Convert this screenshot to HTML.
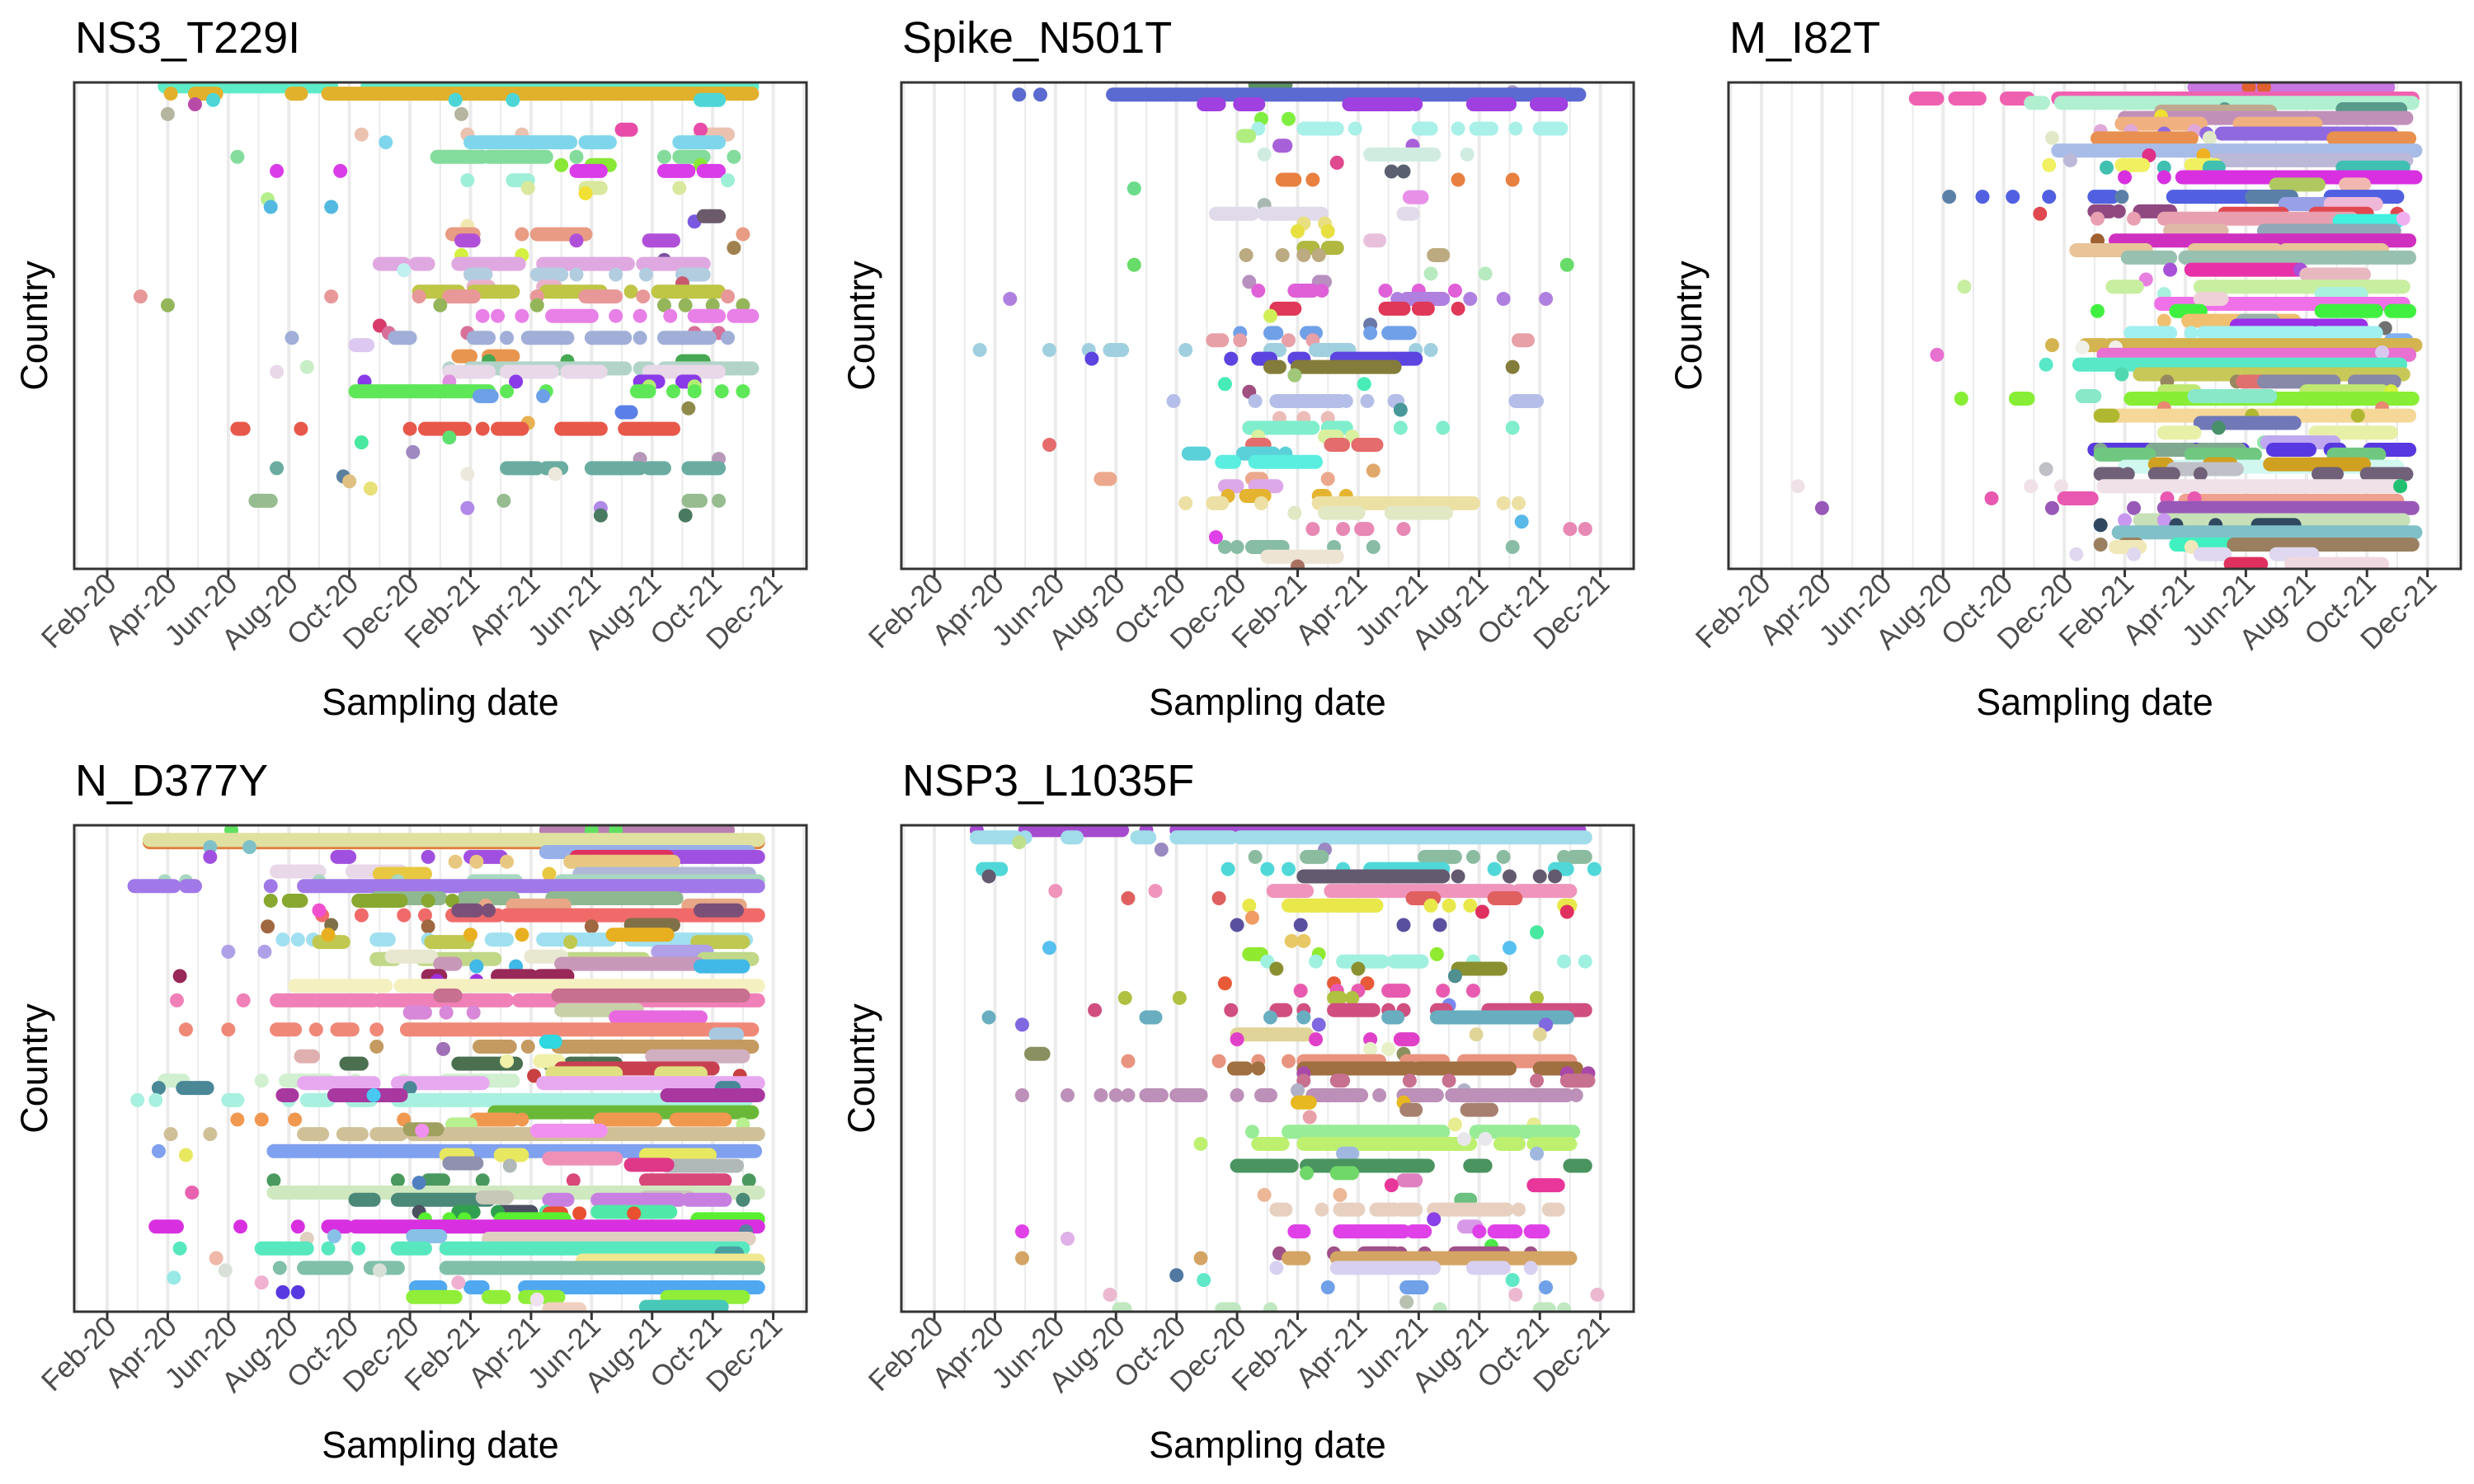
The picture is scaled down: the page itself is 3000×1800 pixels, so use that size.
<!DOCTYPE html>
<html><head><meta charset="utf-8"><title>Mutation sampling by country</title>
<style>
html,body{margin:0;padding:0;background:#fff;}
svg{display:block;font-family:"Liberation Sans",Arial,sans-serif;}
</style></head>
<body>
<svg id="chart" width="3000" height="1800" viewBox="0 0 3000 1800" xmlns="http://www.w3.org/2000/svg">
<rect x="0" y="0" width="3000" height="1800" fill="#fff"/>
</svg>
<script>
// ---- data: x in months since 2020-01-01, y = country row position (0..100 top->bottom)
const tickLabels = ["Feb-20","Apr-20","Jun-20","Aug-20","Oct-20","Dec-20","Feb-21","Apr-21","Jun-21","Aug-21","Oct-21","Dec-21"];
const tickMonths = [1,3,5,7,9,11,13,15,17,19,21,23];
const panelTitles = ["NS3_T229I","Spike_N501T","M_I82T","N_D377Y","NSP3_L1035F"];

const rowsNS3 = [
[0.8,"#5EECC8","2.9-8.4 9.6-22.3"],[2.3,"#E1B12C","3.1 3.9-4.6 7.1-7.4 8.3-22.3"],[4.5,"#B84BA8","3.9"],
[3.6,"#4ED6D6","4.5 12.5 14.4 20.6-21.2"],[6.5,"#B5B5A0","3.0 12.7"],[10.7,"#EBC2B0","9.4 12.9 14.7 20.6-21.5"],
[9.7,"#E84BA8","18.0-18.3 20.6"],[12.3,"#7FD6EC","10.2 13.0-16.3 16.8-17.6 19.9-21.2"],
[15.3,"#84DC9C","5.3 11.9-13.4 13.6-15.5 16.5 19.4 19.9-20.7 21.7"],[17.0,"#88E835","16.0 17.0-17.6 20.6"],
[18.2,"#D93CE8","6.6 8.7 16.5-17.3 19.4-20.2 20.7-21.2"],[20.1,"#9EEFD8","12.9 14.4-14.9 21.5"],
[21.7,"#D8E89C","14.9 16.8-17.3 19.9"],[22.8,"#F2E035","16.8"],[24.0,"#B7EE8C","6.3"],[25.6,"#53B9E0","6.4 8.4"],
[28.6,"#7A58E0","20.4"],[27.5,"#6A5A6A","20.7-21.2"],[29.5,"#F0E8B0","12.9"],
[31.2,"#E89C84","12.4-13.1 14.7 15.2-16.8 22.0"],[32.5,"#B050D8","12.7-13.1 16.5 18.9-19.7"],[34.0,"#A0804F","21.7"],
[35.5,"#D4F040","12.7 14.7"],[36.5,"#7A52A0","19.4"],[37.3,"#E0A8E0","10.0-10.8 11.2-11.6 12.6-14.6 15.4-18.2 18.7-20.7"],
[38.6,"#C0F0F0","10.8"],[39.5,"#B2CCE0","13.0-13.5 15.2-16.0 16.5 17.8 18.8 20.0-20.7"],[41.3,"#C85A70","20.0"],
[42.0,"#E8B0C8","13.1-13.6 15.4-15.8"],[43.0,"#BFC545","11.3-12.6 13.1-14.4 15.5-17.3 18.3 19.2-21.2"],
[44.0,"#E89898","2.1 8.4 11.3 12.3-13.1 15.2 16.8-17.8 18.7 21.5"],[45.8,"#95B55A","3.0 12.0 15.2 19.4 20.1 21.0 22.0"],
[48.0,"#E880E8","13.4 13.9 14.7 15.7-17.0 17.8 18.6 19.6 20.4-21.2 21.7-22.3"],[50.0,"#D83A6A","10.0"],
[51.5,"#D8709A","10.3 12.9 20.4 21.2"],[52.5,"#A0AED8","7.1 10.5-11.0 13.1-13.6 14.2 14.9-16.2 17.0-18.1 18.6 19.4-20.9 21.5"],
[54.0,"#DCC8F0","9.2-9.6"],[56.3,"#E8964F","12.6-13.0 13.6-14.4"],[57.3,"#46A850","13.6 16.2 20.0-20.7"],
[58.5,"#C8EEC8","7.6"],[58.8,"#B2D4C8","12.3 13.0-18.1 18.6-18.9 19.4-22.3"],
[59.5,"#E8D8E8","6.6 12.3-13.6 14.2-15.7 16.2-17.3 18.9-21.2"],[61.5,"#E090E0","12.3"],
[61.5,"#8A3AE8","9.5 14.5 18.6-19.2 20.0-20.4"],[62.5,"#B2EE70","18.9 20.4"],
[63.5,"#5EE858","9.2-13.6 14.2 15.5 18.5-18.9 19.7 20.4 21.3 22.0"],[64.5,"#6CA0E8","13.3-13.7 15.4"],
[67.0,"#908A4A","20.2"],[67.8,"#5A80E8","18.0-18.3"],[70.0,"#E8B050","14.9"],
[71.2,"#E8584A","5.3-5.5 7.4 11.0 11.5-12.8 13.4 13.9-14.7 16.0-17.3 18.1-19.7"],[73.0,"#5EE070","12.3"],
[74.0,"#48E8A0","9.4"],[76.0,"#A088C0","11.1"],[77.4,"#B898B8","18.6 21.2"],
[79.3,"#6AADA0","6.6 14.2-15.2 15.5-16.0 17.0-18.6 18.9-19.4 20.2-21.2"],[81.0,"#5A80A0","8.8"],
[82.0,"#E0C080","9.0"],[80.5,"#ECE8DC","12.9 15.8"],[83.5,"#E8E078","9.7"],
[86.0,"#96BC90","5.9-6.4 14.1 20.2-20.6 21.2"],[87.5,"#B088E8","12.9 17.3"],[89.0,"#4A7A60","17.3 20.1"]
];

const rowsSpike = [
[0.5,"#5A9060","11.6-12.6"],[2.0,"#B0A0B8","20.1"],[2.5,"#5A6AD0","3.8 4.5 6.9-22.3"],
[4.5,"#A040E0","9.9-10.4 11.1-11.7 14.7-16.7 16.9 18.8-20.0 20.9-21.7"],[7.5,"#80EE40","11.8 12.7"],
[9.5,"#A8F0E8","11.7 13.2-14.3 14.9 17.0-17.4 18.3 18.9-19.4 20.2 21.0-21.7"],[11.0,"#B0EE80","11.2-11.4"],
[13.0,"#A860D8","12.4-12.6 16.8"],[14.8,"#D0ECE0","11.9 15.4-17.5 18.6"],[16.5,"#E04890","14.3"],
[18.3,"#5A6070","16.1 16.5"],[20.0,"#E88040","12.5-12.9 13.5 18.3 20.1"],[21.8,"#6ADC8A","7.6"],
[23.6,"#E890E8","16.7-17.1"],[25.2,"#A8B8B0","11.9"],[27.0,"#E0DAEA","10.3-11.5 11.9-13.8 16.5-16.8"],
[29.0,"#E8E080","13.2 13.9"],[30.6,"#E8E040","13.0 14.0"],[32.5,"#E8C0DC","15.4-15.7"],
[34.0,"#B0B840","13.2-13.5 14.0-14.3"],[35.5,"#BCAA80","11.3 12.5 13.2 13.7 17.5-17.8"],[37.5,"#68DC68","7.6 21.9"],
[39.3,"#B8EAC0","17.4 19.2"],[41.0,"#B890C0","11.4 13.7-13.9"],[42.8,"#E060D8","11.7 12.9-13.5 13.8 15.9 17.0 18.2"],
[44.5,"#B080E0","3.5 16.3 16.6-17.8 18.7 19.8 21.2"],[46.5,"#E03858","12.3-12.9 15.9-16.5 17.0-17.3 18.3"],
[48.0,"#D0EE58","12.1"],[49.8,"#6A78A8","15.4"],[51.5,"#70A0E8","11.1 12.1-12.3 13.3-13.6 15.4 16.0-16.7"],
[53.0,"#E8A0A8","10.2-10.5 11.1 12.7 13.5 20.3-20.6"],
[55.0,"#A0D0E0","2.5 4.8 6.1 6.8-7.2 9.3 12.1-12.4 13.6-14.7 16.9 17.4"],
[56.8,"#5C44E0","6.2 10.8 11.7-12.1 12.9-13.2 14.3-16.9"],[58.5,"#847C3A","12.1-12.4 13.0-16.2 20.1"],
[60.2,"#A0C878","12.9"],[62.0,"#48ECB8","10.6 15.2"],[63.6,"#A05080","11.4"],
[65.5,"#B4BEE8","8.9 11.6 12.3-14.4 14.6 15.3 16.2-16.3 20.2-20.9"],[67.3,"#48989A","16.4"],
[69.0,"#ECBCB8","12.4 13.2 14.0"],[71.0,"#80EECC","11.4-13.5 14.0-14.6 16.4 17.8 20.1"],
[72.8,"#D8F0A0","11.7 13.9-14.3 14.8"],[74.5,"#E46C6C","4.8 11.5-11.9 14.1-14.5 15.0-15.6"],
[76.3,"#5AD0D8","9.4-9.9 11.2-12.2 12.6"],[78.0,"#5AEEE0","10.5-10.9 11.6-13.6"],[79.8,"#E0A86A","15.5"],
[81.5,"#ECA88C","6.5-6.8 11.5-11.8 14.0"],[83.0,"#DCA8E8","10.6-11.0 11.6-12.3"],
[85.0,"#E4B430","10.7 11.3-11.9 13.7-13.9 14.6"],[86.5,"#ECE0A4","9.3 10.2-10.5 11.8 13.7-17.4 17.5-18.8 19.8 20.3"],
[88.5,"#E0E8C4","12.9 13.9-15.0 16.1-17.9"],[90.3,"#58B8E8","20.4"],[91.8,"#E888B4","13.5 14.5 15.1-15.3 16.5 22.0 22.5"],
[93.5,"#E040E8","10.3"],[95.5,"#88BCA4","10.6 11.0 11.5-12.5 14.2 15.5 20.1"],[97.5,"#EEE4D4","12.0-14.3"],
[99.5,"#A87060","13.0"]
];

const rowsM = [
[1.0,"#C878E0","15.3-21.7"],[1.0,"#E06030","17.1 17.6"],[3.3,"#F060B0","6.1-6.8 7.4-8.2 9.1-9.8 10.8-22.5"],
[4.2,"#B0F0D0","9.9-10.3 10.9-22.5"],[5.5,"#5A9A8A","16.3 20.2-22.1"],[6.0,"#C0A890","14.2-17.8"],
[7.3,"#C090B8","13.0-14.0 13.6-22.3"],[7.0,"#F0E030","14.2"],[8.5,"#F0B080","12.9-15.5 16.8-19.3"],
[10.0,"#E0A8D8","12.2 13.2 15.3"],[10.5,"#9068E0","14.3 15.7 16.2-21.8"],[11.4,"#E0E8C8","10.6 15.8"],
[11.5,"#E89050","12.1-15.2 19.9-22.4"],[14.0,"#A8BCE8","10.8-22.6"],[15.0,"#E0308A","13.8"],[15.0,"#F0B020","15.6"],
[16.0,"#BCB8D8","11.2 16.1-19.0 18.8-22.3"],[17.0,"#F0F060","10.5 12.9-13.6 15.2-16.0"],
[17.5,"#40C0B0","12.4 14.3 15.8-16.1 20.2-22.2"],[19.5,"#D830E0","13.0 14.3 14.9-22.6"],
[21.0,"#B0C860","18.0-19.4"],[21.0,"#F0B8B0","20.3-20.9"],
[23.5,"#5060E0","8.3 9.3 10.5 12.0-12.6 14.6-18.4 19.8-22.0"],[23.5,"#5A80A8","7.2 12.9 17.2-18.5"],
[25.0,"#98A0E8","18.3-19.9"],[25.0,"#F0B8D8","19.8-21.3"],[26.5,"#904880","12.0-12.5 12.8 13.5-14.5"],
[27.0,"#E04850","10.2 16.3-18.2 19.3-21.0 22.0"],[28.0,"#E8A0B0","12.1 13.3 14.3-15.5 15.6-20.5"],
[28.5,"#40F0E0","20.1-22.0"],[28.0,"#F0B0F0","22.2"],[30.5,"#90A8B8","17.6-21.9"],[30.5,"#E0B8A8","14.5-16.2"],
[32.5,"#A06030","12.1"],[32.5,"#D030C0","12.7-22.4"],[34.5,"#E8C498","11.4-13.7 15.3-18.0 18.3-21.5"],
[36.0,"#98C0B0","13.1-14.5 15.0-20.8 20.5-22.4"],[38.5,"#E830A8","15.2-18.7"],[38.5,"#A850D8","14.5 18.8"],
[39.5,"#E8B8C0","19.0-20.9"],[40.5,"#E880E0","13.7"],[42.0,"#C8EEA0","7.7 12.6-13.4 15.5-22.2"],
[43.5,"#A8F0E0","14.3 19.5-20.8"],[45.5,"#F070E8","14.2-15.2 15.7-22.2"],[44.5,"#F0D0D8","15.5-16.2"],
[47.0,"#40F040","12.1 14.7-15.5 19.5-21.3 21.8-22.4"],[49.0,"#F0C070","14.3 15.1-15.8 15.9-18.6"],
[49.0,"#98B0A8","16.9-17.9"],[50.0,"#9A30E8","16.7-20.8"],[50.5,"#707070","21.6"],
[51.5,"#A0F0F0","13.2-14.5 15.2 15.6-19.2 19.4-21.3"],[53.0,"#80B0F0","21.8-22.3"],
[54.0,"#D4B450","10.6 11.7-12.3 12.5-15.6 15.7-22.6"],[54.5,"#F0F0E8","11.6 12.7"],
[56.0,"#E870D0","6.8 12.3-22.4"],[55.5,"#D8C8F0","21.5"],[58.0,"#58E8C8","10.4 11.5-22.1"],
[60.0,"#C8C858","13.5-22.2"],[60.0,"#50D8B0","12.9"],[61.5,"#988860","14.4 16.7"],[61.5,"#E07070","16.9-17.6"],
[61.5,"#8888A8","17.6-19.9 20.6-21.9"],[63.5,"#C0E870","14.3-15.3 19.0-21.5"],[63.5,"#D8F040","21.8"],
[65.0,"#88EE35","7.6 9.4-9.8 13.2-22.5"],[64.5,"#88E8C8","11.6-12.0 15.3-17.8"],[67.0,"#E88870","14.3 21.5"],
[68.5,"#F5D898","12.2-22.4"],[68.5,"#B0B830","12.2-12.6 17.2 20.7"],[70.0,"#7078B8","15.5-18.6"],
[72.0,"#E8F0A8","14.3-15.3 19.3-21.8"],[71.0,"#48906A","16.1"],[74.0,"#90E8A8","17.6-18.3"],
[74.0,"#C0A8F0","17.7-19.9"],[75.5,"#5838E0","12.0-16.9 17.9-19.1 19.8-20.1 21.1-22.4"],
[75.5,"#80A890","12.2 13.9-15.2 15.5-16.8"],[76.5,"#70C880","12.2-13.8 15.2-17.3 19.9-21.4"],
[79.0,"#D0F8F0","13.0-22.0"],[78.5,"#D0A020","14.0-14.4 15.8-16.5 17.8-20.9"],[79.5,"#C0C0C8","10.4 14.6-16.7"],
[80.5,"#706078","12.2-12.8 13.1 14.0-14.6 15.5 19.4-20.0 21.0-22.3"],[83.0,"#F0E0E8","2.2 9.9 10.9 12.3-22.1"],
[83.0,"#20C070","22.1"],[86.0,"#F0A090","15.0-22.0"],[85.5,"#E858B0","8.6 11.0-11.9 14.4 15.3"],
[87.5,"#9858B8","3.0 10.6 13.3 14.3-22.5"],[90.0,"#C8E0B8","13.5-22.2"],[90.0,"#C898F0","13.0 14.3"],
[91.0,"#304860","12.2 14.7 16.0 17.4-18.6"],[92.5,"#80C0C8","12.8-22.6"],[95.0,"#40F0C0","14.7-22.2"],
[95.0,"#9A8060","12.2 13.0-13.4 16.6-22.5"],[95.5,"#F0E8B8","12.7-13.5 15.2"],
[97.0,"#E0D8F0","11.4 13.3 15.5-16.3 18.0-19.2"],[99.0,"#F0D8E0","18.5-21.5"],[99.0,"#E03060","16.5-17.5"]
];

const rowsN = [
[1.0,"#B880B0","15.5-21.5"],[1.0,"#60E060","5.1 17.0 17.8"],[3.5,"#E08040","2.4-22.5"],[3.0,"#E0E0A0","2.4-22.5"],
[4.5,"#80C0C8","4.4 5.7"],[5.5,"#98B0E8","15.5-22.2"],[6.5,"#A050E0","4.4 8.6-9.0 11.6 13.0-14.0 17.2-22.5"],
[6.5,"#E03060","16.5-19.5"],[7.5,"#E8C880","12.5 13.2 14.2 16.3-19.7"],[9.5,"#E8D8E8","6.6-8.0 9.1-10.7"],
[10.0,"#B0B8D8","16.6-22.2"],[10.0,"#E8C840","10.0-11.5 15.6"],[11.5,"#A8D8C0","2.9 3.6 8.0 10.6 13.1-14.5 16.0-22.5"],
[12.5,"#A078E8","1.9-3.2 3.6-3.9 6.4 7.5-22.5"],[15.0,"#90B890","9.9-12.0 12.8-14.4 15.7-19.8"],
[15.5,"#88A830","6.4 7.0-7.4 9.3-10.7 11.6 12.4"],[16.5,"#E8A888","13.5 14.4-16.1 20.2-21.9"],
[18.5,"#F06A6A","8.1 9.4 10.8 11.5 12.4-13.9 14.2-22.5"],[17.5,"#F050D0","8.0"],[17.5,"#7A5078","12.6-13.2 13.6 20.6-21.8"],
[20.5,"#807048","8.4 18.3-19.7"],[20.8,"#A06840","6.3 11.6 17.0"],
[23.5,"#A0E0F0","6.8 7.3 7.8 9.9-10.3 11.6 13.7-14.2 15.4-17.6 18.3-22.1"],[24.0,"#C0C850","8.0-8.8 11.7-12.9 16.3 20.5-22.0"],
[22.5,"#E8B020","8.3 13.0 14.7 17.7-19.5"],[26.0,"#B0A0E8","5.0 6.2 19.2-20.8"],
[27.5,"#C0D888","9.9-10.5 11.4-13.8 16.3-18.7 20.7-22.3"],[27.0,"#E8E8D0","10.4-11.7 15.0-16.0"],
[28.5,"#C898B8","12.0-12.5 16.0-20.5"],[29.0,"#40B8E8","13.2 14.5 20.6-22.0"],
[31.0,"#982858","3.4 11.6-12.0 13.9-15.0 15.3-16.2"],[32.0,"#A030E0","11.9 13.2"],[33.0,"#F5F0C0","7.2-7.9 8.0-10.2 10.7-22.5"],
[36.0,"#F080B8","3.3 5.5 6.6-9.8 10.0-11.6 11.7-14.2 14.6-22.5"],[35.0,"#C87090","12.0-12.5 15.9-22.0"],
[38.5,"#D888D8","11.0-11.5 12.2 13.1"],[38.0,"#C8D0A8","16.0-18.5"],[39.5,"#E868E0","17.8-20.6"],
[42.0,"#F08878","3.6 5.0 6.6-7.2 7.9 8.6-9.1 9.9 10.9-22.3"],[43.0,"#A8C8E0","21.1-21.8"],
[45.5,"#C49A60","9.9 13.3-14.3 14.9 15.9-22.3"],[44.5,"#30D8E0","15.5-15.8"],[46.0,"#A070B8","12.1"],
[47.5,"#E0B0B0","7.4-7.8"],[47.5,"#D0B0C0","19.0-22.0"],[49.0,"#4A7050","8.9-9.4 12.6-14.5 15.6 16.3-17.8"],
[48.5,"#F0F0A8","14.2 15.3-15.9"],[50.0,"#C84050","16.0-21.0"],[51.5,"#C84040","15.1 21.9"],
[51.0,"#E0E080","15.7-17.8 19.3-20.6"],[52.5,"#D0F0D0","2.9-3.5 6.1 6.9-8.3 9.2 10.8 12.2-14.4"],
[53.0,"#E8A8F0","7.5-9.8 10.6-13.4 15.4-22.5"],[54.0,"#4A8898","2.7 3.5-4.3 11.0 21.3-21.7"],
[56.5,"#A8F0E0","2.0 2.6 5.0-5.3 7.0 7.6-8.3 9.1-9.7 10.6-22.1"],[55.5,"#A838A0","6.8-7.1 8.5-10.7 19.5-22.5"],
[55.5,"#48C8F0","9.8"],[59.0,"#6AB838","13.8-22.3"],
[60.5,"#F09850","5.3 6.1 7.2 10.8 13.2-14.4 14.7 17.3-19.1 19.8-21.4"],[61.5,"#B8F090","12.4-13.0 22.0"],
[63.5,"#D0C098","3.1 4.4 7.5-8.1 8.8-9.4 9.9-10.7 11.1-22.5"],[62.5,"#A0A060","11.0-11.9"],[62.8,"#F090F0","11.4 15.2-17.3"],
[67.0,"#80A0F0","2.7 6.5-22.4"],[67.8,"#E8E860","3.6 12.2-12.9 14.0-14.7 18.8-20.9"],[68.5,"#F090B8","15.6-17.8"],
[69.5,"#9090B0","12.3-13.2"],[70.0,"#B0B8B8","14.3 19.5-21.8"],[69.8,"#E03888","18.3-19.5"],
[73.0,"#4A9A60","6.5 10.6 11.6-12.1 13.4 22.2"],[73.0,"#D84878","16.4 18.8-21.4"],
[75.5,"#D0E8C0","6.5-18.6 18.7-22.5"],[75.5,"#E860B0","3.8"],[73.5,"#5080C0","11.3"],
[77.0,"#4A8878","9.2-9.8 10.6-13.6 22.0"],[76.5,"#C8C8B8","13.4-14.2 18.8-20.2"],[77.0,"#C880E0","15.6-16.2 17.2-19.9 20.2-21.4"],
[79.5,"#4A5060","11.3 12.8-13.0 14.0-15.0"],[79.5,"#30A050","12.6-13.1 13.9"],[79.5,"#50E8A8","15.5 17.2-19.6"],
[79.8,"#E85030","15.6-16.0 16.6 18.4"],[81.0,"#58F030","11.5 12.3 12.8 14.0-16.1 20.5-22.5"],
[82.5,"#D830E0","2.6-3.3 5.4 7.3 8.3-8.9 9.2-20.3 20.5-22.5"],[83.5,"#5A80A0","22.1"],
[85.0,"#E0D0C0","7.6 13.6-22.2"],[84.5,"#88C0E8","8.5 11.1-12.0"],
[87.0,"#58E8C0","3.4 6.1-7.6 8.3 9.3 10.6-11.5 12.2-22.0"],[88.0,"#48A0A0","21.3-21.8"],
[89.0,"#F0B8A8","4.6"],[89.5,"#F0E890","16.7-22.5"],[91.0,"#80C0A8","6.7 7.5-8.9 9.7-10.6 12.2-22.5"],
[91.5,"#D8E0D8","4.9 10.0"],[93.0,"#98E8E8","3.2"],[95.0,"#50A8F0","11.2-12.0 13.0-13.4 14.8-22.5"],
[94.0,"#F0B0D0","6.1 12.6"],[96.0,"#5838E0","6.8 7.3"],[97.0,"#90EE38","11.1-12.5 13.6-14.1 14.8-15.9 19.5-22.0"],
[97.5,"#F0E0F0","15.2"],[99.0,"#48C8B8","18.8-21.3"],[99.5,"#F0D0C0","15.6-16.6"]
];

const rowsNSP3 = [
[1.0,"#A64AD0","2.4 4.0-7.2 8.0 9.0-22.3"],[2.5,"#A0DCEA","2.4-3.7 4.0 5.4-5.7 7.7-8.1 9.0-10.8 11.1-22.5"],
[3.5,"#BEE08C","3.8"],[5.0,"#9A88C0","8.5 13.9"],[6.5,"#8CBCA0","11.6 13.3-13.8 17.2-18.2 18.8 19.8 21.8 22.1-22.5"],
[9.0,"#50D8D8","2.6-3.2 10.7 12.0 12.7 14.5 15.4-17.8 19.5 21.5-21.9 22.8"],
[10.5,"#645A70","2.8 13.2-17.8 18.3 20.0 21.0 21.5"],[13.5,"#F094BC","5.0 8.3 12.2-13.3 14.1-20.0 20.3-22.0"],
[15.0,"#E06060","7.4 10.4 16.8-17.5 19.5-20.2"],[16.5,"#E8E84A","11.4 12.7-15.6 17.4 18.0 18.7 21.8-22.0"],
[17.8,"#E03060","19.1 21.9"],[19.0,"#F09C64","11.5"],[20.5,"#5A50A0","11.0 13.1 16.5 17.7"],[22.0,"#48E8A0","20.9"],
[23.8,"#E8C864","12.8 13.2"],[25.2,"#58C0F0","4.8 20.0"],[26.5,"#90EA30","11.4-11.8 13.7 17.6"],
[28.0,"#A0F0E0","12.0 13.6 14.5-15.8 16.2-17.1 18.8 21.8 22.5"],[29.5,"#8A9030","12.3 15.0 18.3-19.7"],
[31.0,"#509090","18.2"],[32.5,"#E85A38","10.6 14.2 15.3"],[34.0,"#E85AB0","13.1 14.3 15.0 16.0-16.5 17.8 18.8"],
[35.5,"#B0C040","7.3 9.1 14.2-14.4 14.8 20.9"],[37.0,"#7888F0","18.0"],
[38.0,"#D04F80","6.3 10.8 12.3-12.6 13.2 14.2-15.5 16.0 16.5 17.6-17.9 19.3-22.5"],
[39.5,"#68AEC0","2.8 8.0-8.3 12.1 13.2 16.0-16.3 17.6-21.9"],[41.0,"#8068E0","3.9 13.7 21.2"],
[43.0,"#E0D498","11.0-13.3 18.9 21.0"],[44.0,"#E040C8","11.0 13.6 15.4 16.4-16.8"],[46.0,"#E8F0C8","15.4 16.0"],
[47.0,"#8A9060","4.2-4.6 16.5"],[48.5,"#E89480","7.4 10.4 11.7 12.7 13.2-15.7 16.6-17.8 18.5-22.0"],
[50.0,"#A07040","10.9-11.3 11.7 13.2-16.8 17.0-20.0 21.0-22.2"],[51.0,"#A848A8","13.2 21.9 22.6"],
[52.5,"#C87090","13.2 14.3-14.5 16.7 18.0 20.9 21.9-22.6"],[54.5,"#B0B0C8","13.0 18.5"],
[55.5,"#BC90B8","3.9 5.4 6.5 7.0 7.4 8.0-8.5 9.0-9.8 11.0 11.8-12.1 13.5-15.1 15.7 16.5-17.6 18.1-20.0 20.0-21.9 22.2"],
[57.0,"#E8B820","13.0-13.4 16.5"],[58.5,"#A88070","16.6-16.9 18.6-19.4"],[60.0,"#E8A0A8","13.4"],
[61.5,"#E8EC90","18.2 20.8"],[63.0,"#98EC98","11.5 12.7-17.8 18.9-22.1"],
[65.5,"#BEF070","9.8 11.7-12.5 13.2-18.7 19.7-20.3 20.8-22.0"],[64.5,"#E8E8EC","18.5 19.2"],
[67.5,"#A0B8E0","14.5-14.8 20.9"],[70.0,"#4A9460","11.0-12.8 13.3-17.3 18.7-19.2 22.0-22.5"],
[71.5,"#70D868","13.3 14.3-14.8"],[73.0,"#E080C0","16.5-16.9"],[74.0,"#E8369A","16.1 20.8-21.6"],
[76.0,"#ECB898","11.9 14.4"],[77.0,"#6CC080","18.4-18.7"],
[79.0,"#E8D0C0","12.3-12.6 13.8 14.4-15.0 15.6-16.2 16.4-16.9 17.5-19.9 20.3 21.3-21.6"],[81.0,"#8A40E8","17.5"],
[82.5,"#D898E8","18.5-18.9"],[83.5,"#E040E8","3.9 12.9-13.2 14.4-16.5 16.8-17.2 19.0 19.5-20.2 20.7-21.1"],
[85.0,"#E0B0E8","5.4"],[86.5,"#4AE848","19.4"],[88.0,"#A05088","12.4 14.2 15.2-16.2 16.4 17.2 18.2-19.8 20.7"],
[89.0,"#D4A464","3.9 9.8 12.7-13.2 14.3-22.0"],[91.0,"#D8D0F0","12.3 14.3-17.5 18.8-19.8 20.7"],
[92.5,"#5078A0","9.0"],[93.5,"#60E8C8","9.9 20.1"],[95.0,"#70A0E8","14.0 16.6-17.1 21.2"],
[96.5,"#ECB8D0","6.8 20.2 22.9"],[98.0,"#B8C0B0","16.6"],[99.5,"#C0E8C0","7.1-7.3 10.5-10.9 12.1 17.7 21.0-21.3 21.8"]
];

// ---- layout
const NS = "http://www.w3.org/2000/svg";
const svg = document.getElementById('chart');
const X0 = -0.09, X1 = 24.1;
const PW = 888, PH = 590, R = 8.5;
const panels = [
  {x:90, y:100, rows:rowsNS3, key:"ns3-t229i"},
  {x:1093, y:100, rows:rowsSpike, key:"spike-n501t"},
  {x:2096, y:100, rows:rowsM, key:"m-i82t"},
  {x:90, y:1001, rows:rowsN, key:"n-d377y"},
  {x:1093, y:1001, rows:rowsNSP3, key:"nsp3-l1035f"}
];
function mk(tag, attrs, parent){
  const e = document.createElementNS(NS, tag);
  for (const k in attrs) e.setAttribute(k, attrs[k]);
  (parent||svg).appendChild(e);
  return e;
}
function parseSegs(s){
  return s.trim().split(/\s+/).map(t => {
    const p = t.split('-').map(Number);
    return p.length === 1 ? [p[0], p[0]] : [p[0], p[1]];
  });
}

panels.forEach((p, i) => {
  const xs = m => p.x + (m - X0) / (X1 - X0) * PW;
  const ys = v => p.y + v / 100 * PH;
  const g = mk('g', {});
  
  

  const title = mk('text', {x:p.x + 1, y:p.y - 36, 'font-size':54, fill:'#000'}, g);
  title.textContent = panelTitles[i];
  
  

  const clipId = 'clip' + i;
  const cp = mk('clipPath', {id:clipId}, g);
  mk('rect', {x:p.x, y:p.y, width:PW, height:PH}, cp);

  const grid = mk('g', {}, g);
  
  
  for (let m = 0; m <= 24; m++) {
    const gx = xs(m);
    if (gx < p.x || gx > p.x + PW) continue;
    const major = tickMonths.indexOf(m) >= 0;
    mk('line', {x1:gx, x2:gx, y1:p.y, y2:p.y + PH, stroke:'#EBEBEB', 'stroke-width': major ? 4 : 2}, grid);
  }

  const marks = mk('g', {'clip-path':'url(#' + clipId + ')'}, g);
  
  
  p.rows.forEach(r => {
    const cy = ys(r[0]);
    parseSegs(r[2]).forEach(sg => {
      const a = xs(sg[0]), b = xs(sg[1]);
      let el;
      if (b - a < 1) {
        el = mk('circle', {cx:a, cy:cy, r:R, fill:r[1]}, marks);
      } else {
        el = mk('line', {x1:a, x2:b, y1:cy, y2:cy, stroke:r[1], 'stroke-width':2*R, 'stroke-linecap':'round'}, marks);
      }
      
      
    });
  });

  const border = mk('rect', {x:p.x, y:p.y, width:PW, height:PH, fill:'none', stroke:'#333', 'stroke-width':3}, g);
  
  

  const axis = mk('g', {}, g);
  
  
  tickMonths.forEach((m, k) => {
    const tx = xs(m);
    mk('line', {x1:tx, x2:tx, y1:p.y + PH, y2:p.y + PH + 10, stroke:'#333', 'stroke-width':3}, axis);
    const t = mk('text', {'font-size':35, fill:'#4D4D4D', 'text-anchor':'end',
      transform:'translate(' + (tx + 13) + ',' + (p.y + PH + 20) + ') rotate(-45)'}, axis);
    t.textContent = tickLabels[k];
    
    
  });

  const xt = mk('text', {x:p.x + PW/2, y:p.y + PH + 177, 'font-size':45, 'text-anchor':'middle', fill:'#000'}, g);
  xt.textContent = 'Sampling date';
  
  

  const yt = mk('text', {'font-size':45, 'text-anchor':'middle', fill:'#000',
    transform:'translate(' + (p.x - 33) + ',' + (p.y + PH/2) + ') rotate(-90)'}, g);
  yt.textContent = 'Country';
  
  
});
</script>
</body></html>
